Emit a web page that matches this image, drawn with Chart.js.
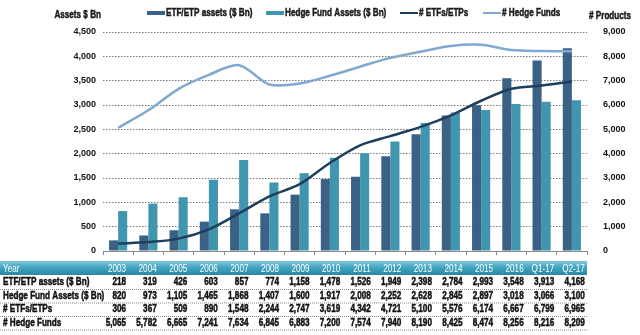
<!DOCTYPE html>
<html>
<head>
<meta charset="utf-8">
<script src="https://cdn.jsdelivr.net/npm/chart.js@4.4.1/dist/chart.umd.min.js"></script>
<style>
html,body{margin:0;padding:0;background:#fff;}
#wrap{position:relative;width:640px;height:335px;}
</style>
</head>
<body>
<div id="wrap"><canvas id="c" width="640" height="335"></canvas></div>
<script>
const categories = ['2003','2004','2005','2006','2007','2008','2009','2010','2011','2012','2013','2014','2015','2016','Q1-17','Q2-17'];
const etfAssets = [218,319,426,603,857,774,1158,1478,1526,1949,2398,2784,2993,3548,3913,4168];
const hfAssets = [820,973,1105,1465,1868,1407,1600,1917,2008,2252,2628,2845,2897,3018,3066,3100];
const numETFs = [306,367,509,890,1548,2244,2747,3619,4342,4721,5100,5576,6174,6667,6799,6965];
const numHedgeFunds = [5065,5782,6665,7241,7634,6845,6883,7200,7574,7940,8190,8425,8474,8256,8216,8209];
const leftTicks = [0,500,1000,1500,2000,2500,3000,3500,4000,4500];
const rightTicks = [0,1000,2000,3000,4000,5000,6000,7000,8000,9000];

const C_ETF = '#3a6186';
const C_HF = '#3f96ae';
const C_ETFN = '#1f3d5c';
const C_HFN = '#80a9cf';
const FAM = "'Liberation Sans', Arial, sans-serif";
const SX = 0.74;

const fmt = v => v.toLocaleString('en-US');

function txt(ctx, t, x, y, align, heavy) {
  ctx.save();
  ctx.translate(x, y);
  ctx.scale(SX, 1);
  ctx.textAlign = align;
  ctx.fillText(t, 0, 0);
  if (heavy) {
    ctx.lineWidth = 0.5;
    ctx.strokeStyle = ctx.fillStyle;
    ctx.strokeText(t, 0, 0);
  }
  ctx.restore();
}

const rows = [
  {label:'ETF/ETP assets ($ Bn)', data: etfAssets},
  {label:'Hedge Fund Assets ($ Bn)', data: hfAssets},
  {label:'# ETFs/ETPs', data: numETFs},
  {label:'# Hedge Funds', data: numHedgeFunds}
];

const extras = {
  id:'extras',
  afterDraw(chart){
    const ctx = chart.ctx;
    const xs = chart.scales.x;
    const ca = chart.chartArea;
    ctx.save();
    ctx.fillStyle = '#1a1a1a';
    ctx.textBaseline = 'middle';
    ctx.font = "bold 11px " + FAM;
    txt(ctx, 'Assets $ Bn', 101, 15, 'right', true);
    txt(ctx, '# Products', 589, 16, 'left', true);
    // legend
    const leg = [
      {t:'ETF/ETP assets ($ Bn)', c:C_ETF, x:147, h:4},
      {t:'Hedge Fund Assets ($ Bn)', c:C_HF, x:266, h:4},
      {t:'# ETFs/ETPs', c:C_ETFN, x:400, h:2},
      {t:'# Hedge Funds', c:C_HFN, x:483, h:2}
    ];
    leg.forEach(l=>{
      ctx.fillStyle = l.c;
      ctx.fillRect(l.x, 13 - l.h/2, 18, l.h);
      ctx.fillStyle = '#1a1a1a';
      txt(ctx, l.t, l.x + 19, 13, 'left', true);
    });
    // table
    const right = ca.right;
    const bandTop = 261, bandH = 14;
    const g = ctx.createLinearGradient(0, bandTop, 0, bandTop + bandH);
    g.addColorStop(0, '#7cc6d8');
    g.addColorStop(0.5, '#3fa3bf');
    g.addColorStop(1, '#2a87a3');
    ctx.fillStyle = g;
    ctx.fillRect(0, bandTop, right, bandH);
    const colRight = i => xs.getPixelForValue(i) + 8 + i * 0.33;
    ctx.font = "11px " + FAM;
    ctx.fillStyle = '#ffffff';
    txt(ctx, 'Year', 3, bandTop + bandH/2 + 1, 'left');
    categories.forEach((c,i)=> txt(ctx, c, colRight(i), bandTop + bandH/2 + 1, 'right'));
    const rowY = [282, 295.5, 309, 322.5];
    ctx.font = "bold 11px " + FAM;
    rows.forEach((r,ri)=>{
      const y = rowY[ri];
      ctx.fillStyle = '#111';
      txt(ctx, r.label, 3, y, 'left', true);
      r.data.forEach((v,i)=> txt(ctx, fmt(v), colRight(i), y, 'right', true));
      ctx.strokeStyle = '#8a8a8a';
      ctx.lineWidth = 1;
      ctx.setLineDash([1,1]);
      ctx.beginPath();
      ctx.moveTo(0, y + 7.5);
      ctx.lineTo(right, y + 7.5);
      ctx.stroke();
      ctx.setLineDash([]);
    });
    ctx.restore();
  }
};

const tickFont = {family: FAM, weight: 'bold', size: 9};

new Chart(document.getElementById('c'), {
  data: {
    labels: categories,
    datasets: [
      {type:'line', label:'# ETFs/ETPs', data:numETFs, yAxisID:'y2', borderColor:C_ETFN, borderWidth:2.5, pointRadius:0, tension:0.3, order:1, fill:false},
      {type:'line', label:'# Hedge Funds', data:numHedgeFunds, yAxisID:'y2', borderColor:C_HFN, borderWidth:2.5, pointRadius:0, tension:0.3, order:2, fill:false},
      {type:'bar', label:'ETF/ETP assets ($ Bn)', data:etfAssets, yAxisID:'y', backgroundColor:C_ETF, categoryPercentage:0.6, barPercentage:1, order:3},
      {type:'bar', label:'Hedge Fund Assets ($ Bn)', data:hfAssets, yAxisID:'y', backgroundColor:C_HF, categoryPercentage:0.6, barPercentage:1, order:4}
    ]
  },
  options: {
    responsive:false,
    animation:false,
    devicePixelRatio:1,
    layout:{padding:{top:32,left:0,right:0,bottom:0}},
    plugins:{legend:{display:false}, tooltip:{enabled:false}},
    scales:{
      x:{
        offset:true,
        ticks:{display:false},
        grid:{display:true, drawOnChartArea:false, drawTicks:true, tickLength:4, color:'#8a8a8a', offset:true},
        border:{display:true, color:'#8a8a8a'},
        afterFit(s){ s.height = 84; }
      },
      y:{
        position:'left', min:0, max:4500,
        afterBuildTicks(s){ s.ticks = leftTicks.map(v=>({value:v})); },
        ticks:{callback:v=>fmt(v), color:'#111', font:tickFont, padding:7},
        grid:{color:'#7a7a7a', drawTicks:false, lineWidth:1},
        border:{display:false, dash:[1.5,1.5]},
        afterFit(s){ s.width = 103; }
      },
      y2:{
        position:'right', min:0, max:9000,
        afterBuildTicks(s){ s.ticks = rightTicks.map(v=>({value:v})); },
        ticks:{callback:v=>fmt(v), color:'#111', font:tickFont, padding:8},
        grid:{display:false},
        border:{display:false},
        afterFit(s){ s.width = 53; }
      }
    }
  },
  plugins:[extras]
});
</script>
</body>
</html>
